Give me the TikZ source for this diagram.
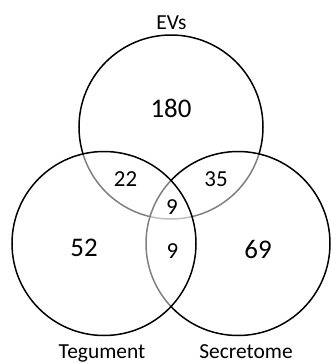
\documentclass[tikz,border=0pt]{standalone}
\usepackage{fontspec}
\setmainfont{Carlito}
\begin{document}
\begin{tikzpicture}[x=1bp,y=-1bp,
  setcircle/.style={draw=black,line width=1.5bp,fill=white,fill opacity=0.5,draw opacity=1},
  bignum/.style={inner sep=0pt,font=\fontsize{27}{31}\selectfont},
  smallnum/.style={inner sep=0pt,font=\fontsize{23}{27}\selectfont},
  setlabel/.style={inner sep=0pt,anchor=base,font=\fontsize{21.5}{25}\selectfont}]
\useasboundingbox (0,0) rectangle (331,363);
\fill[white] (0,0) rectangle (331,363);
\path[setcircle] (171,127) circle[radius=92];
\path[setcircle] (238,243.5) circle[radius=92];
\path[setcircle] (104,243.5) circle[radius=92];
\node[bignum] (n180) at (171,108.5) {180};
\node[smallnum] (n22) at (125.5,178.7) {22};
\node[smallnum] (n35) at (216,178.7) {35};
\node[smallnum] (n9a) at (172,206.7) {9};
\node[smallnum] (n9b) at (172.5,251) {9};
\node[bignum] (n52) at (84,248) {52};
\node[bignum] (n69) at (258,250) {69};
\node[setlabel] (evs) at (171.5,29) {EVs};
\node[setlabel] (teg) at (102,358) {Tegument};
\node[setlabel] (sec) at (246,358) {Secretome};
\end{tikzpicture}
\end{document}
